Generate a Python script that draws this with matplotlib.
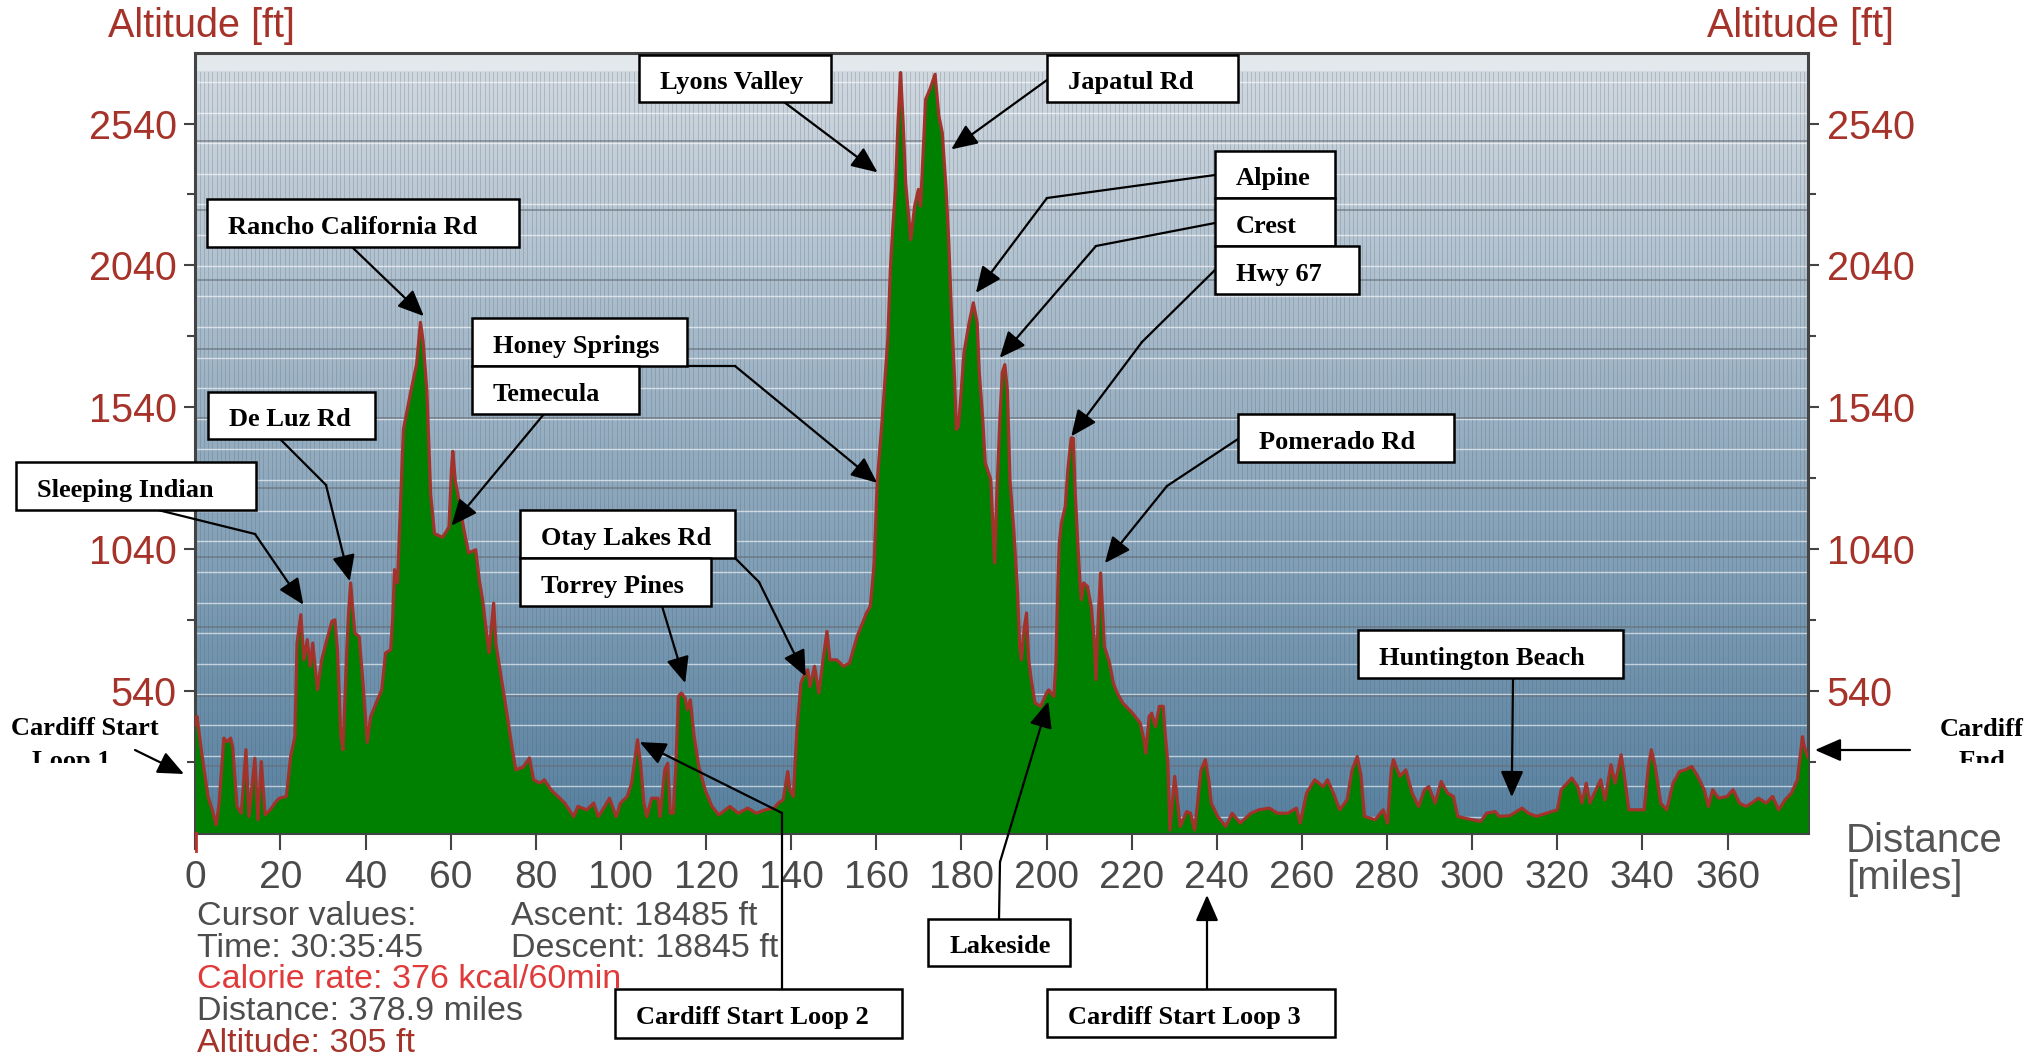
import numpy as np
import matplotlib
matplotlib.use("Agg")
import matplotlib.pyplot as plt
from matplotlib.patches import Rectangle
from matplotlib.lines import Line2D
from matplotlib.transforms import Bbox

plt.rcParams["font.family"] = ["Liberation Sans", "DejaVu Sans"]

W, H = 2041, 1058
RED = "#a5332a"
GREY = "#4d4d4d"
SERIF = "Liberation Serif"

# ride profile: distance (miles) / altitude (ft)
dist_mi = [
    0.0, 0.4, 1.4, 3.0, 4.0, 4.9, 5.6, 6.7, 7.5, 8.3, 8.8, 9.8, 10.8, 11.9, 12.6, 14.0, 14.7, 15.5,
    16.4, 17.6, 19.0, 19.8, 21.4, 22.4, 23.4, 23.9, 24.8, 25.5, 26.3, 27.0, 27.6, 28.7, 29.7, 30.7,
    32.1, 32.8, 33.4, 34.2, 34.7, 35.5, 36.0, 36.5, 37.0, 37.5, 38.5, 39.4, 40.4, 41.2, 42.8, 43.8,
    44.7, 45.9, 46.4, 46.8, 47.5, 47.8, 48.9, 50.7, 52.0, 52.9, 53.5, 54.4, 55.3, 56.2, 58.1, 59.6,
    60.2, 60.5, 61.1, 62.0, 63.0, 64.2, 65.9, 66.7, 67.5, 69.0, 70.1, 70.6, 72.2, 73.2, 74.5, 75.3,
    77.0, 78.5, 79.5, 81.0, 82.0, 83.6, 85.0, 86.8, 88.9, 89.9, 92.0, 93.6, 94.7, 96.2, 97.3, 98.9,
    99.9, 101.5, 102.5, 103.9, 104.6, 105.4, 106.1, 107.2, 108.7, 109.2, 110.3, 111.0, 111.6, 112.3,
    112.9, 113.5, 114.2, 115.1, 115.6, 116.3, 117.2, 118.3, 119.8, 121.4, 123.0, 125.6, 127.6, 129.8,
    131.8, 133.9, 136.0, 137.0, 138.1, 139.2, 139.7, 140.5, 141.3, 142.3, 142.9, 143.9, 144.4, 145.5,
    146.5, 147.6, 148.4, 149.1, 150.7, 152.3, 153.7, 155.5, 157.7, 158.6, 159.5, 160.2, 161.3, 162.7,
    163.3, 163.9, 164.5, 165.1, 165.7, 166.3, 166.9, 168.1, 169.0, 169.9, 170.4, 171.6, 172.6, 173.8,
    174.7, 175.5, 176.4, 177.0, 177.6, 178.4, 178.8, 179.3, 179.8, 180.6, 181.8, 182.8, 183.7, 184.2,
    185.0, 185.6, 186.9, 187.8, 188.3, 189.0, 189.6, 190.2, 190.8, 191.4, 192.3, 193.2, 193.7, 194.1,
    194.8, 195.3, 195.8, 196.4, 197.3, 198.6, 200.0, 200.5, 201.7, 202.2, 202.7, 203.0, 203.5, 204.4,
    205.0, 205.8, 206.3, 206.7, 207.3, 207.9, 208.2, 208.7, 209.6, 210.5, 211.2, 211.6, 212.2, 212.7,
    213.1, 213.6, 214.8, 215.7, 216.6, 217.9, 220.2, 222.0, 222.9, 223.3, 224.1, 224.7, 225.6, 226.5,
    227.4, 227.8, 228.5, 229.0, 230.1, 230.9, 231.4, 232.9, 233.8, 234.8, 236.3, 237.3, 238.1, 238.7,
    240.2, 242.1, 243.6, 245.5, 248.0, 249.9, 252.3, 254.3, 256.7, 258.7, 259.6, 261.1, 263.0, 265.0,
    266.0, 267.4, 268.9, 270.6, 271.8, 273.0, 273.9, 274.7, 277.2, 279.1, 280.1, 281.0, 281.5, 283.0,
    284.4, 285.9, 287.4, 288.8, 289.8, 291.3, 292.7, 294.2, 295.6, 296.6, 298.1, 300.0, 302.0, 303.4,
    305.4, 306.3, 308.8, 311.7, 313.2, 315.1, 317.5, 320.0, 320.9, 323.4, 324.8, 325.8, 326.8, 327.7,
    328.7, 330.2, 331.2, 332.6, 333.6, 335.0, 336.0, 336.8, 338.9, 340.4, 341.4, 342.1, 343.0, 344.3,
    345.7, 347.2, 348.7, 350.1, 351.6, 353.0, 354.5, 355.5, 356.5, 357.9, 359.9, 361.3, 362.8, 364.3,
    365.7, 367.2, 369.1, 370.6, 372.0, 373.5, 375.0, 376.4, 377.0, 377.6, 378.0, 378.9,
]
alt_ft = [
    420, 449, 332, 167, 120, 67, 144, 373, 360, 373, 340, 132, 108, 332, 97, 302, 85, 290,
    103, 120, 150, 161, 167, 308, 379, 708, 808, 649, 720, 626, 708, 543, 649, 708,
    785, 790, 684, 379, 332, 649, 814, 920, 826, 743, 731, 567, 358, 449, 508, 543,
    673, 684, 802, 967, 920, 1037, 1462, 1600, 1692, 1839, 1775, 1600, 1232, 1094, 1081, 1117,
    1324, 1384, 1278, 1209, 1117, 1026, 1037, 932, 861, 674, 849, 708, 555, 461, 332, 261,
    270, 303, 226, 214, 226, 190, 170, 144, 96, 132, 120, 144, 96, 132, 161, 96,
    144, 167, 214, 367, 284, 144, 96, 161, 161, 96, 261, 284, 108, 108,
    273, 520, 532, 514, 473, 508, 379, 273, 190, 132, 102, 132, 108, 126,
    108, 120, 126, 144, 155, 255, 190, 167, 391, 567, 590, 614, 555, 626,
    532, 661, 749, 649, 649, 626, 638, 732, 814, 838, 991, 1273, 1480, 1779,
    2026, 2178, 2308, 2543, 2720, 2543, 2331, 2131, 2249, 2308, 2249, 2626, 2661, 2714,
    2567, 2508, 2308, 2131, 1896, 1637, 1461, 1473, 1567, 1732, 1837, 1908, 1837, 1661,
    1500, 1343, 1285, 991, 1226, 1486, 1662, 1690, 1600, 1285, 1108, 885, 696, 649,
    767, 814, 649, 579, 497, 485, 532, 543, 520, 638, 932, 1061, 1132, 1190,
    1320, 1432, 1430, 1249, 1073, 908, 861, 920, 908, 837, 720, 579, 814, 955,
    837, 696, 638, 567, 532, 497, 461, 426, 367, 320, 449, 461, 414, 485,
    485, 402, 285, 49, 238, 132, 61, 114, 108, 49, 261, 297, 226, 144,
    97, 61, 108, 73, 108, 120, 126, 108, 108, 126, 73, 179, 226, 202,
    226, 179, 120, 155, 261, 308, 238, 97, 85, 120, 73, 261, 297, 238,
    261, 179, 132, 191, 202, 144, 220, 179, 167, 97, 91, 85, 79, 108,
    114, 97, 99, 126, 108, 97, 108, 120, 191, 232, 202, 144, 214, 144,
    179, 226, 155, 279, 214, 314, 214, 120, 120, 120, 273, 332, 273, 144,
    120, 214, 255, 261, 273, 238, 191, 132, 191, 161, 167, 191, 144, 132,
    144, 161, 144, 167, 120, 155, 179, 226, 300, 378, 345, 305,
]

x_ticks = list(range(0, 361, 20))
y_major = [540, 1040, 1540, 2040, 2540]
y_minor = [290, 790, 1290, 1790, 2290]

stats_left = ["Cursor values:", "Time: 30:35:45", "Calorie rate: 376 kcal/60min",
              "Distance: 378.9 miles", "Altitude: 305 ft"]
stats_left_colors = [GREY, GREY, "#e03a3a", GREY, RED]
stats_right = ["Ascent: 18485 ft", "Descent: 18845 ft"]

# callouts: label, box (px), leader points (px), arrow tip (data)
callouts = [
    ("Lyons Valley", (639, 55, 831, 102), [(784, 102)], (160.3, 2368)),
    ("Japatul Rd", (1047, 55, 1238, 102), [(1047, 80)], (177.6, 2449)),
    ("Alpine", (1215, 151, 1335, 198), [(1215, 175), (1047, 198)], (183.4, 1943)),
    ("Crest", (1215, 198, 1335, 246), [(1215, 223), (1096, 246)], (189.0, 1714)),
    ("Hwy 67", (1215, 246, 1359, 294), [(1215, 270), (1142, 342)], (205.8, 1437)),
    ("Rancho California Rd", (207, 199, 519, 247), [(352, 247)], (53.7, 1861)),
    ("Honey Springs", (472, 318, 687, 366), [(687, 366), (735, 366)], (160.2, 1273)),
    ("Temecula", (472, 366, 639, 414), [(544, 414)], (60.2, 1122)),
    ("De Luz Rd", (208, 392, 375, 439), [(280, 439), (326, 485)], (36.3, 926)),
    ("Sleeping Indian", (16, 462, 256, 510), [(158, 510), (255, 534)], (25.4, 843)),
    ("Otay Lakes Rd", (520, 510, 735, 558), [(735, 558), (759, 582)], (143.4, 590)),
    ("Torrey Pines", (520, 558, 711, 606), [(662, 606)], (115.1, 567)),
    ("Pomerado Rd", (1238, 414, 1454, 462), [(1238, 439), (1167, 486)], (213.7, 990)),
    ("Huntington Beach", (1358, 630, 1623, 678), [(1513, 678)], (309.3, 165)),
    ("Lakeside", (928, 919, 1070, 966), [(999, 919), (1000, 862)], (200.4, 502)),
    ("Cardiff Start Loop 2", (615, 989, 902, 1038), [(782, 989), (782, 813)], (104.4, 359)),
]


def fx(px):
    return px / W


def fy(py):
    return 1 - py / H


fig = plt.figure(figsize=(W / 100, H / 100), dpi=100)
ax = fig.add_axes([fx(195.3), fy(832.5), (1808 - 195.3) / W, (832.5 - 52.7) / H])

x_max = dist_mi[-1]
y_lo, y_hi, band = 40, 2790, 2725

# background: light band on top, blue-grey gradient below
top = np.array([208, 216, 224]) / 255
bot = np.array([86, 128, 160]) / 255
t = np.linspace(0, 1, 256)[:, None]
grad = (bot * (1 - t) + top * t)[:, None, :]
ax.imshow(grad, extent=(0, x_max, y_lo, band), origin="lower", aspect="auto",
          interpolation="bilinear", zorder=0)
ax.axhspan(band, y_hi, color="#e3e8ed", zorder=0, lw=0)
ax.vlines(np.arange(1, x_max, 1.0), y_lo, band, colors="#56616b", lw=0.6,
          linestyles=(0, (1.2, 1.2)), alpha=0.6, zorder=1)
for yy in np.arange(95, band, 108):
    ax.axhline(yy, color="white", lw=1.0, alpha=0.6, zorder=1)
for yy in np.arange(275, band, 245):
    ax.axhline(yy, color="#66707a", lw=1.2, alpha=0.7, zorder=1)

ax.fill_between(dist_mi, alt_ft, y_lo, color="#008000", lw=0, zorder=3)
ax.plot(dist_mi, alt_ft, color="#a3322a", lw=2.3, zorder=4)

ax.set_xlim(0, x_max)
ax.set_ylim(y_lo, y_hi)
ax.set_xticks(x_ticks)
ax.set_yticks(y_major)
ax.set_yticks(y_minor, minor=True)
ax.tick_params(axis="y", which="both", left=True, right=True, labelleft=True,
               labelright=True, direction="out", colors="#444444", labelcolor=RED,
               labelsize=28.5, pad=5.5, width=1.5)
ax.tick_params(axis="y", which="major", length=8)
ax.tick_params(axis="y", which="minor", length=5.5)
ax.tick_params(axis="x", direction="out", length=12.5, width=1.5, colors="#444444",
               labelcolor="#4a4a4a", labelsize=28, pad=7)
for s in ax.spines.values():
    s.set_color("#444444")
    s.set_linewidth(2.2)

# cursor marker at the start
fig.add_artist(Line2D([fx(195.5)] * 2, [fy(833), fy(851)], color="#c0302a", lw=2))

fig.text(fx(108), fy(37), "Altitude [ft]", color=RED, fontsize=28.5, va="baseline")
fig.text(fx(1894), fy(37), "Altitude [ft]", color=RED, fontsize=28.5, va="baseline",
         ha="right")
fig.text(fx(1846), fy(852), "Distance", color="#555555", fontsize=29, va="baseline")
fig.text(fx(1846), fy(889), "[miles]", color="#555555", fontsize=29, va="baseline")

for i, (s, c) in enumerate(zip(stats_left, stats_left_colors)):
    fig.text(fx(197), fy(925 + 31.7 * i), s, color=c, fontsize=24.5, va="baseline")
for i, s in enumerate(stats_right):
    fig.text(fx(511), fy(925 + 31.7 * i), s, color=GREY, fontsize=24.5, va="baseline")

arrow_kw = dict(arrowstyle="-|>,head_length=0.8,head_width=0.35", color="black",
                lw=1.6, shrinkA=0, shrinkB=0, mutation_scale=20)


def draw_box(label, rect):
    x0, y0, x1, y1 = rect
    fig.add_artist(Rectangle((fx(x0), fy(y1)), (x1 - x0) / W, (y1 - y0) / H,
                             transform=fig.transFigure, facecolor="white",
                             edgecolor="black", lw=1.8, zorder=5))
    fig.text(fx(x0 + 21), fy(y0 + 0.72 * (y1 - y0)), label, family=SERIF,
             fontweight="bold", fontsize=19, va="baseline", zorder=6)


def draw_leader(pts, tip, coords="data"):
    if len(pts) > 1:
        fig.add_artist(Line2D([fx(p[0]) for p in pts], [fy(p[1]) for p in pts],
                              color="black", lw=1.6, zorder=4))
    sx, sy = pts[-1]
    ax.annotate("", xy=tip, xycoords=coords, xytext=(sx, H - sy),
                textcoords="figure pixels", arrowprops=arrow_kw,
                annotation_clip=False, zorder=8)


for label, rect, pts, tip in callouts:
    draw_leader(pts, tip)
    draw_box(label, rect)

# loop 3 start points at the axis labels
draw_leader([(1207, 989)], (1207, H - 895), coords="figure pixels")
draw_box("Cardiff Start Loop 3", (1047, 989, 1335, 1037))

# free-standing labels at both ends, cut off at the bottom like the original
clip = Bbox.from_extents(0, H - 763, W, H)
for txt, x, y, ha in [("Cardiff Start", 11, 735, "left"), ("Loop 1", 32, 768, "left"),
                      ("Cardiff", 1982, 736, "center"), ("End", 1982, 768, "center")]:
    tt = fig.text(fx(x), fy(y), txt, family=SERIF, fontweight="bold", fontsize=19,
                  va="baseline", ha=ha)
    tt.set_clip_box(clip)
    tt.set_clip_on(True)
draw_leader([(135, 750)], (184, H - 774), coords="figure pixels")
draw_leader([(1910, 750)], (1815, H - 750), coords="figure pixels")

fig.savefig("out.png", dpi=100)
